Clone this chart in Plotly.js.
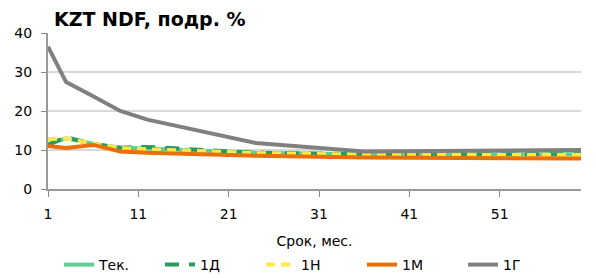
<!DOCTYPE html>
<html><head><meta charset="utf-8">
<script src="https://cdn.plot.ly/plotly-3.0.1.min.js"></script>
<style>body{margin:0;padding:0;}#chart{width:596px;height:278px;}</style>
</head><body><div id="chart"></div>
<script>
const tenors = [1, 3, 6, 9, 12, 18, 24, 36, 48, 60];
const tek = [11.5, 13.0, 11.6, 10.6, 10.4, 9.8, 9.3, 8.9, 8.9, 8.9];
const d1  = [11.3, 13.3, 11.5, 10.6, 10.8, 10.0, 9.3, 8.9, 8.9, 8.9];
const n1  = [12.8, 13.0, 11.6, 10.5, 10.2, 9.6, 9.2, 8.8, 8.8, 8.7];
const m1  = [11.0, 10.5, 11.3, 9.6, 9.3, 8.9, 8.5, 8.1, 8.0, 7.8];
const g1  = [36.5, 27.4, 23.8, 20.0, 17.8, 14.9, 11.8, 9.6, 9.8, 10.0];
const names = ['Тек.', '1Д', '1Н', '1М', '1Г'];
const xTicks = [1, 11, 21, 31, 41, 51];

const font = 'Verdana, "DejaVu Sans", sans-serif';
const traces = [
  {x: tenors, y: tek, name: names[0], line: {color: '#5fcd95', width: 4}},
  {x: tenors, y: d1, name: names[1], line: {color: '#2b9a5f', width: 4, dash: '14px,10px'}},
  {x: tenors, y: n1, name: names[2], line: {color: '#ffe84a', width: 4, dash: '9px,6px'}},
  {x: tenors, y: m1, name: names[3], line: {color: '#e8700a', width: 4}},
  {x: tenors, y: g1, name: names[4], line: {color: '#808080', width: 4}}
].map(t => Object.assign(t, {type: 'scatter', mode: 'lines'}));

const layout = {
  width: 596, height: 278,
  margin: {l: 48, r: 15, t: 33, b: 89},
  paper_bgcolor: '#fff', plot_bgcolor: '#fff',
  font: {family: font, size: 14, color: '#000'},
  title: {text: '<b>KZT NDF, подр. %</b>', font: {family: font, size: 19, color: '#000'},
          x: 54/596, xanchor: 'left', xref: 'container', y: 1 - 19/278, yanchor: 'middle', yref: 'container'},
  xaxis: {range: [1, 60], tickvals: xTicks, ticks: 'outside', ticklen: 6, tickcolor: '#888',
          showline: true, linecolor: '#999', linewidth: 2, showgrid: false, zeroline: false,
          ticklabelstandoff: 5,
          tickfont: {size: 14}, title: {text: 'Срок, мес.', font: {size: 14}, standoff: 16}},
  yaxis: {range: [0, 40], dtick: 10, ticks: 'outside', ticklen: 5, tickcolor: '#888',
          showline: true, linecolor: '#999', linewidth: 2, gridcolor: '#d9d9d9', gridwidth: 1.5,
          ticklabelstandoff: 6,
          zeroline: false, tickfont: {size: 14}},
  showlegend: true,
  legend: {orientation: 'h', xref: 'container', yref: 'container', x: 59/596, xanchor: 'left',
           y: 1 - 265/278, yanchor: 'middle', entrywidth: 56, entrywidthmode: 'pixels',
           font: {size: 14}, traceorder: 'normal'}
};
Plotly.newPlot('chart', traces, layout, {staticPlot: true});
</script></body></html>
